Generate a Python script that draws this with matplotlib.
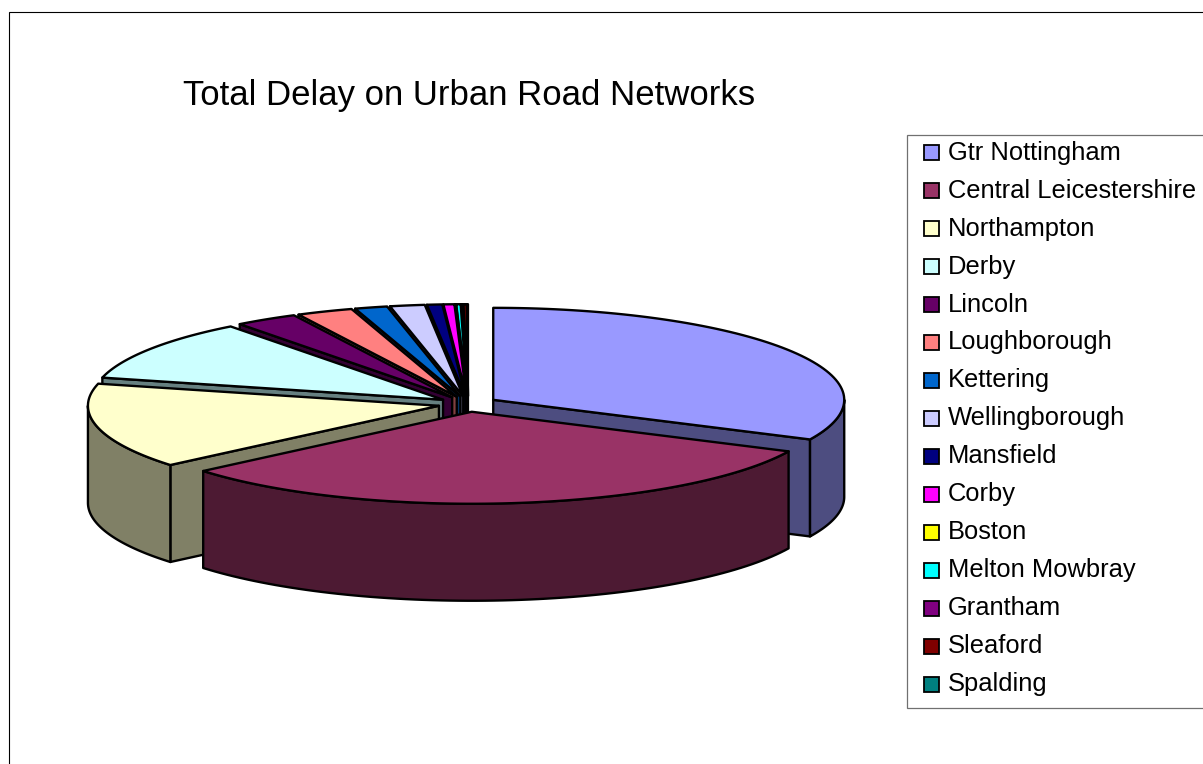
import numpy as np
import matplotlib
matplotlib.use("Agg")
import matplotlib.pyplot as plt
from matplotlib.patches import Polygon, Rectangle

plt.rcParams['font.family'] = ['Liberation Sans', 'DejaVu Sans']

towns = ["Gtr Nottingham", "Central Leicestershire", "Northampton", "Derby", "Lincoln",
         "Loughborough", "Kettering", "Wellingborough", "Mansfield", "Corby",
         "Boston", "Melton Mowbray", "Grantham", "Sleaford", "Spalding"]
delay = [32.1, 31.8, 15.0, 10.8, 2.9, 2.6, 1.5, 1.6, 0.7, 0.5, 0.05, 0.2, 0.1, 0.15, 0.05]
colours = ["#9999FF", "#993366", "#FFFFCC", "#CCFFFF", "#660066", "#FF8080", "#0066CC", "#CCCCFF",
           "#000080", "#FF00FF", "#FFFF00", "#00FFFF", "#800080", "#800000", "#008080"]

# pie geometry in pixels
cx, cy = 468, 404
rx, ry = 351, 92
depth = 97
explode = 0.085


def point(x0, y0, angle):
    # angle is degrees clockwise from the top of the pie
    a = np.radians(angle)
    return x0 + rx * np.sin(a), y0 - ry * np.cos(a)


def shade(colour):
    return tuple(c * 0.5 for c in matplotlib.colors.to_rgb(colour))


def draw_slice(ax, t0, t1, colour):
    mid = (t0 + t1) / 2
    a = np.radians(mid)
    x0 = cx + explode * rx * np.sin(a)
    y0 = cy - explode * ry * np.cos(a)
    style = dict(edgecolor='black', linewidth=1.7, joinstyle='round')
    dark = shade(colour)

    # cut faces, only the ones turned towards the viewer
    if np.sin(np.radians(t0)) < 0:
        xe, ye = point(x0, y0, t0)
        ax.add_patch(Polygon([(x0, y0), (xe, ye), (xe, ye + depth), (x0, y0 + depth)], facecolor=dark, **style))
    if np.sin(np.radians(t1)) > 0:
        xe, ye = point(x0, y0, t1)
        ax.add_patch(Polygon([(x0, y0), (xe, ye), (xe, ye + depth), (x0, y0 + depth)], facecolor=dark, **style))

    # outer wall, front half of the rim only
    lo, hi = max(t0, 90), min(t1, 270)
    if lo < hi:
        xs, ys = point(x0, y0, np.linspace(lo, hi, 80))
        wall = list(zip(xs, ys)) + list(zip(xs[::-1], ys[::-1] + depth))
        ax.add_patch(Polygon(wall, facecolor=dark, **style))

    # top face
    xs, ys = point(x0, y0, np.linspace(t0, t1, 80))
    ax.add_patch(Polygon([(x0, y0)] + list(zip(xs, ys)), facecolor=colour, **style))


def main():
    fig = plt.figure(figsize=(12.03, 7.64), dpi=100)
    ax = fig.add_axes([0, 0, 1, 1])
    ax.set_xlim(0, 1203)
    ax.set_ylim(764, 0)
    ax.axis('off')

    # chart frame runs off the right and bottom of the picture
    ax.add_patch(Rectangle((8.5, 11.5), 1300, 900, facecolor='white', edgecolor='black', linewidth=0.8))

    ax.text(183, 95, "Total Delay on Urban Road Networks", fontsize=25, va='center', ha='left', color='black')

    # slices from the back of the pie to the front
    ends = np.cumsum(delay) / np.sum(delay) * 360
    starts = np.r_[0, ends[:-1]]
    mids = (starts + ends) / 2
    order = np.argsort(-np.cos(np.radians(mids)))
    for i in order:
        draw_slice(ax, starts[i], ends[i], colours[i])

    # legend
    ax.add_patch(Rectangle((906.5, 134.5), 400, 573, facecolor='white', edgecolor='#707070', linewidth=0.9))
    for i, name in enumerate(towns):
        y = 152.7 + i * 37.95
        ax.add_patch(Rectangle((923.5, y - 7.5), 15, 15, facecolor=colours[i], edgecolor='black', linewidth=1.3))
        ax.text(948, y, name, fontsize=18.4, va='center', ha='left', color='black')

    fig.savefig("out.png", dpi=100)


if __name__ == "__main__":
    main()
